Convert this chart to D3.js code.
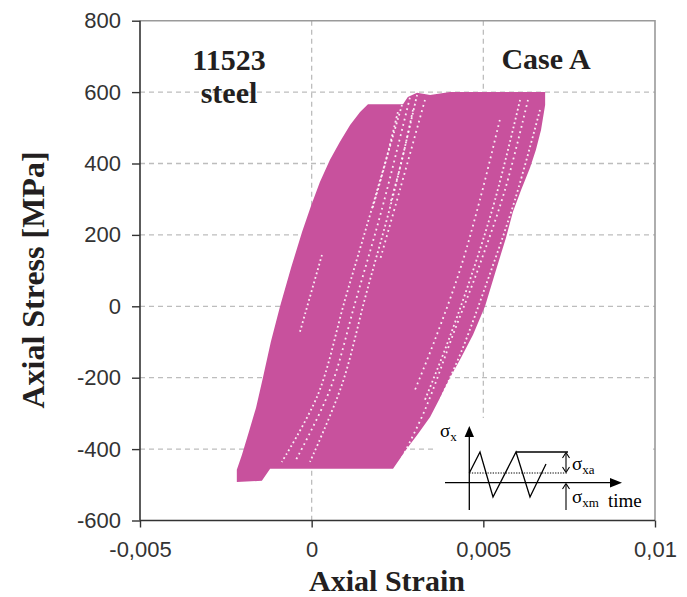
<!DOCTYPE html>
<html>
<head>
<meta charset="utf-8">
<script src="https://cdn.jsdelivr.net/npm/d3@7"></script>
<style>
  body { margin: 0; background: #fff; }
  svg { display: block; }
</style>
</head>
<body>
<svg id="chart" width="687" height="597"></svg>
<script>
// x ticks (strain) and y ticks (stress, MPa)
const strainTicks = [-0.005, 0, 0.005, 0.01];
const stressTicks = [-600, -400, -200, 0, 200, 400, 600, 800];

// outer outline of the cloud of hysteresis loops [strain, stress]
const loopOutline = [
  [0.00164, 566], [0.00266, 566], [0.00280, 586], [0.00307, 598], [0.00345, 592],
  [0.00403, 600], [0.00680, 600], [0.00680, 564], [0.00668, 494], [0.00653, 438],
  [0.00636, 388], [0.00610, 326], [0.00586, 264], [0.00566, 192], [0.00537, 102],
  [0.00505, 0], [0.00470, -80], [0.00435, -144], [0.00403, -200], [0.00374, -256],
  [0.00345, -310], [0.00310, -357], [0.00275, -402], [0.00237, -455],
  [-0.00121, -455], [-0.00145, -489], [-0.00218, -492], [-0.00218, -458],
  [-0.00203, -416], [-0.00183, -352], [-0.00162, -284], [-0.00142, -200],
  [-0.00119, -100], [-0.00092, 0], [-0.00060, 108], [-0.00028, 208], [-0.00002, 281],
  [0.00024, 348], [0.00053, 410], [0.00082, 460], [0.00112, 508], [0.00141, 544]
];

// thin gaps between loops, seen as white dotted streaks
const gapStreaks = [
  [[0.00263, 564], [0.00170, 256], [0.00097, 18], [0.00018, -248], [-0.00087, -436]],
  [[0.00286, 584], [0.00204, 270], [0.00129, 18], [0.00053, -234], [-0.00049, -436]],
  [[0.00307, 592], [0.00234, 298], [0.00158, 32], [0.00088, -220], [-0.00005, -436]],
  [[0.00330, 578], [0.00257, 326], [0.00199, 130]],
  [[0.00251, 544], [0.00213, 396], [0.00176, 271]],
  [[0.00295, 550], [0.00263, 410], [0.00228, 284]],
  [[0.00030, 144], [-0.00034, -71]],
  [[0.00630, 578], [0.00563, 326], [0.00484, 102], [0.00417, -66], [0.00330, -290], [0.00257, -436]],
  [[0.00665, 550], [0.00592, 298], [0.00513, 74], [0.00438, -122], [0.00374, -262]],
  [[0.00548, 522], [0.00490, 298], [0.00432, 102], [0.00359, -94], [0.00301, -234]],
  [[0.00607, 578], [0.00534, 298], [0.00461, 74], [0.00388, -122], [0.00330, -262]]
];

const svg = d3.select("#chart");
const margin = {top: 20.7, right: 32, bottom: 76.5, left: 140};
const W = 687, H = 597;

const x = d3.scaleLinear().domain([-0.005, 0.01]).range([margin.left, W - margin.right]);
const y = d3.scaleLinear().domain([-600, 800]).range([H - margin.bottom, margin.top]);

const fmt = d => d === 0 ? "0" : String(d).replace(".", ",");

// grid
const grid = svg.append("g");
grid.selectAll("line.gx")
  .data(strainTicks.filter(d => d > -0.005 && d < 0.01))
  .enter().append("line")
  .attr("x1", d => x(d)).attr("x2", d => x(d))
  .attr("y1", y(800)).attr("y2", y(-600))
  .attr("stroke", "#bdbdbd").attr("stroke-width", 1.3).attr("stroke-dasharray", "5 4");
grid.selectAll("line.gy")
  .data(stressTicks.filter(d => d > -600 && d < 800))
  .enter().append("line")
  .attr("x1", x(-0.005)).attr("x2", x(0.01))
  .attr("y1", d => y(d)).attr("y2", d => y(d))
  .attr("stroke", "#bdbdbd").attr("stroke-width", 1.3).attr("stroke-dasharray", "5 4");

// frame (top and right)
svg.append("path")
  .attr("d", `M${x(-0.005)},${y(800)}H${x(0.01)}V${y(-600)}`)
  .attr("fill", "none").attr("stroke", "#9a9a9a").attr("stroke-width", 1.6);

// data cloud
const line = d3.line().x(d => x(d[0])).y(d => y(d[1]));
svg.append("path")
  .attr("d", line(loopOutline) + "Z")
  .attr("fill", "#c8519d");

const streakLine = d3.line().x(d => x(d[0])).y(d => y(d[1])).curve(d3.curveCatmullRom);
svg.append("g").selectAll("path")
  .data(gapStreaks)
  .enter().append("path")
  .attr("d", d => streakLine(d))
  .attr("fill", "none")
  .attr("stroke", "#fff")
  .attr("stroke-width", 1.8)
  .attr("stroke-dasharray", (d, i) => i % 2 ? "1.8 3.6" : "1.8 2.8")
  .attr("opacity", 0.9);

// labels inside the plot
const serif = "'Liberation Serif', 'Times New Roman', serif";
svg.append("text").attr("x", 229).attr("y", 70).attr("text-anchor", "middle")
  .style("font", `bold 30px ${serif}`).attr("fill", "#231f20").text("11523");
svg.append("text").attr("x", 229).attr("y", 103).attr("text-anchor", "middle")
  .style("font", `bold 30px ${serif}`).attr("fill", "#231f20").text("steel");
svg.append("text").attr("x", 546).attr("y", 69).attr("text-anchor", "middle")
  .style("font", `bold 30px ${serif}`).attr("fill", "#231f20").text("Case A");

// inset sketch of the loading
const ins = svg.append("g").attr("transform", "translate(430,410)");
ins.append("rect").attr("x", 6).attr("y", 8).attr("width", 216).attr("height", 102).attr("fill", "#fff");
const blk = "#000";
ins.append("line").attr("x1", 39.3).attr("x2", 39.3).attr("y1", 24).attr("y2", 100).attr("stroke", blk).attr("stroke-width", 1.3);
ins.append("path").attr("d", "M39.3,16L34.6,27H44Z").attr("fill", blk);
ins.append("line").attr("x1", 15).attr("x2", 184).attr("y1", 72.7).attr("y2", 72.7).attr("stroke", blk).attr("stroke-width", 1.3);
ins.append("path").attr("d", "M192,72.7L180,68V77.4Z").attr("fill", blk);
ins.append("path").attr("d", "M39.3,63L50,42L63,87L86,42L100,87L116,54")
  .attr("fill", "none").attr("stroke", blk).attr("stroke-width", 1.3);
ins.append("line").attr("x1", 86).attr("x2", 138).attr("y1", 42).attr("y2", 42).attr("stroke", blk).attr("stroke-width", 1.3);
ins.append("line").attr("x1", 39.3).attr("x2", 138).attr("y1", 63).attr("y2", 63)
  .attr("stroke", blk).attr("stroke-width", 1).attr("stroke-dasharray", "1.3 1.3");
ins.append("line").attr("x1", 136).attr("x2", 136).attr("y1", 44).attr("y2", 61).attr("stroke", blk).attr("stroke-width", 1.1);
ins.append("path").attr("d", "M136,42.5L132.5,48M136,42.5L139.5,48M136,62.5L132.5,57M136,62.5L139.5,57")
  .attr("fill", "none").attr("stroke", blk).attr("stroke-width", 1.1);
ins.append("line").attr("x1", 136).attr("x2", 136).attr("y1", 74).attr("y2", 100).attr("stroke", blk).attr("stroke-width", 1.1);
ins.append("path").attr("d", "M136,73.5L132.5,79M136,73.5L139.5,79")
  .attr("fill", "none").attr("stroke", blk).attr("stroke-width", 1.1);

function sigma(px, py, sub) {
  const t = ins.append("text").attr("x", px).attr("y", py).style("font", `19px ${serif}`).attr("fill", blk);
  t.append("tspan").text("σ");
  t.append("tspan").attr("dy", 4).style("font-size", "13px").text(sub);
}
sigma(10, 27, "x");
sigma(142, 60, "xa");
sigma(142, 93, "xm");
ins.append("text").attr("x", 178).attr("y", 97).style("font", `19px ${serif}`).attr("fill", blk).text("time");

// axes
const sans = "'Liberation Sans', Arial, sans-serif";
const xAxis = svg.append("g").attr("transform", `translate(0,${y(-600)})`)
  .call(d3.axisBottom(x).tickValues(strainTicks).tickFormat(fmt).tickSize(7).tickPadding(14));
const yAxis = svg.append("g").attr("transform", `translate(${x(-0.005)},0)`)
  .call(d3.axisLeft(y).tickValues(stressTicks).tickFormat(d => String(d)).tickSize(8).tickPadding(11));
[xAxis, yAxis].forEach(a => {
  a.select(".domain").attr("stroke", "#333").attr("stroke-width", 1.6);
  a.selectAll(".tick line").attr("stroke", "#333").attr("stroke-width", 1.4);
  a.selectAll(".tick text").style("font", `22px ${sans}`).attr("fill", "#333");
});
xAxis.select(".domain").attr("d", `M${x(-0.005)},0H${x(0.01)}`);
yAxis.select(".domain").attr("d", `M0,${y(-600)}V${y(800)}`);

// axis titles
svg.append("text").attr("x", 387).attr("y", 591).attr("text-anchor", "middle")
  .style("font", `bold 30px ${serif}`).attr("fill", "#231f20").text("Axial Strain");
svg.append("text").attr("transform", "translate(44,280) rotate(-90)").attr("text-anchor", "middle")
  .style("font", `bold 32px ${serif}`).attr("fill", "#231f20").text("Axial Stress [MPa]");
</script>
</body>
</html>
